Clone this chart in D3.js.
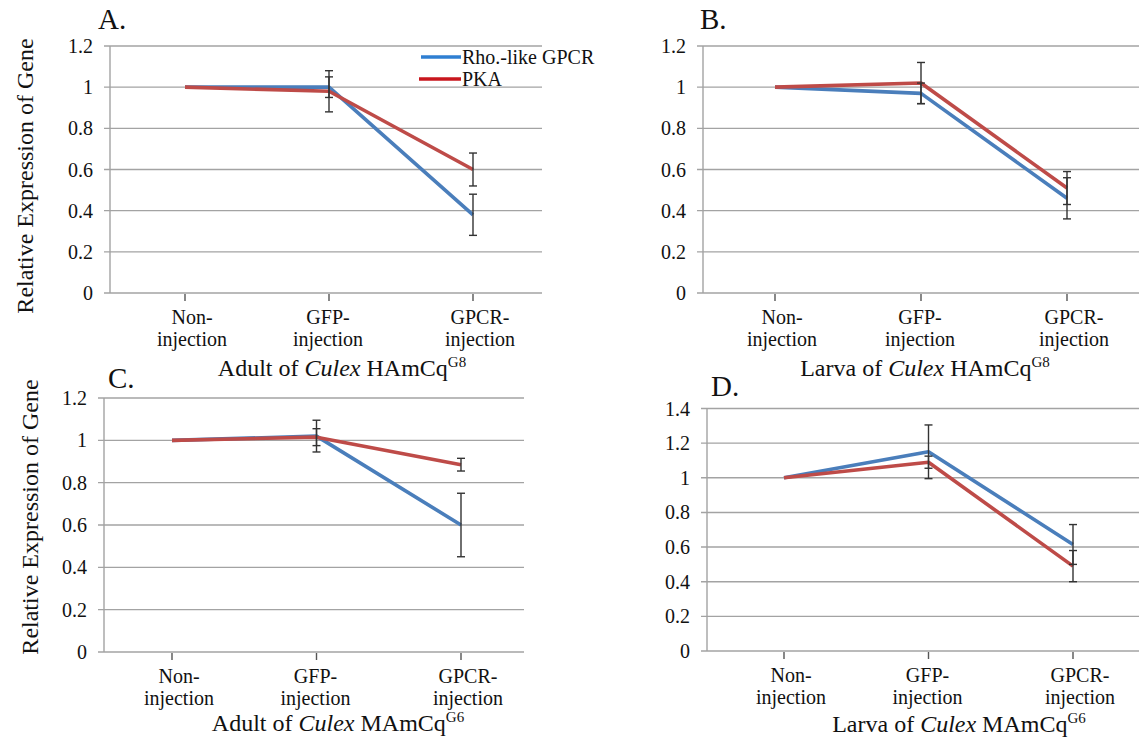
<!DOCTYPE html>
<html>
<head>
<meta charset="utf-8">
<script src="https://cdn.jsdelivr.net/npm/d3@7"></script>
<style>
  html, body { margin: 0; padding: 0; background: #fff; }
  svg text { font-family: "Liberation Serif", "Times New Roman", serif; }
</style>
</head>
<body>
<svg id="chart" width="1139" height="740"></svg>
<script>
// ---- data ----
const categories = ["Non-injection", "GFP-injection", "GPCR-injection"];
const categoryLines = [["Non-", "injection"], ["GFP-", "injection"], ["GPCR-", "injection"]];
const seriesNames = ["Rho.-like GPCR", "PKA"];

// A. Adult of Culex HAmCq G8
const adultHAmGpcr = [1, 1.0, 0.38];
const adultHAmGpcrErr = [0, 0.05, 0.10];
const adultHAmPka = [1, 0.98, 0.60];
const adultHAmPkaErr = [0, 0.10, 0.08];

// B. Larva of Culex HAmCq G8
const larvaHAmGpcr = [1, 0.97, 0.46];
const larvaHAmGpcrErr = [0, 0.05, 0.10];
const larvaHAmPka = [1, 1.02, 0.51];
const larvaHAmPkaErr = [0, 0.10, 0.08];

// C. Adult of Culex MAmCq G6
const adultMAmGpcr = [1, 1.02, 0.60];
const adultMAmGpcrErr = [0, 0.075, 0.15];
const adultMAmPka = [1, 1.015, 0.885];
const adultMAmPkaErr = [0, 0.04, 0.03];

// D. Larva of Culex MAmCq G6
const larvaMAmGpcr = [1, 1.15, 0.615];
const larvaMAmGpcrErr = [0, 0.155, 0.115];
const larvaMAmPka = [1, 1.09, 0.49];
const larvaMAmPkaErr = [0, 0.035, 0.09];

const yTicksA = [0, 0.2, 0.4, 0.6, 0.8, 1, 1.2];
const yTicksD = [0, 0.2, 0.4, 0.6, 0.8, 1, 1.2, 1.4];

// ---- styling ----
const colors = { gpcr: "#4a7ebb", pka: "#be4b48" };
const legendColors = { gpcr: "#2f7fd2", pka: "#c8161d" };
const gridColor = "#a3a3a3";
const errColor = "#333";

const svg = d3.select("#chart");

const panels = [
  { letter: "A.", lx: 98, ly: 29, left: 110, right: 542, top: 46, bottom: 293, cx: [185, 473],
    yMax: 1.2, ticks: yTicksA, gpcr: adultHAmGpcr, gpcrErr: adultHAmGpcrErr, pka: adultHAmPka, pkaErr: adultHAmPkaErr,
    title: ["Adult of ", "Culex", " HAmCq", "G8"], tx: 342, ty: 376,
    yTitle: { x: 25, y: 176 }, legend: true },
  { letter: "B.", lx: 700, ly: 29, left: 703, right: 1139, top: 46, bottom: 293, cx: [775, 1067],
    yMax: 1.2, ticks: yTicksA, gpcr: larvaHAmGpcr, gpcrErr: larvaHAmGpcrErr, pka: larvaHAmPka, pkaErr: larvaHAmPkaErr,
    title: ["Larva of ", "Culex", " HAmCq", "G8"], tx: 925, ty: 376 },
  { letter: "C.", lx: 108, ly: 388, left: 104, right: 524, top: 398, bottom: 652, cx: [172, 461],
    yMax: 1.2, ticks: yTicksA, gpcr: adultMAmGpcr, gpcrErr: adultMAmGpcrErr, pka: adultMAmPka, pkaErr: adultMAmPkaErr,
    title: ["Adult of ", "Culex", " MAmCq", "G6"], tx: 338, ty: 731,
    yTitle: { x: 30, y: 517 } },
  { letter: "D.", lx: 711, ly: 396, left: 707, right: 1139, top: 408.5, bottom: 651, cx: [784, 1073],
    yMax: 1.4, ticks: yTicksD, gpcr: larvaMAmGpcr, gpcrErr: larvaMAmGpcrErr, pka: larvaMAmPka, pkaErr: larvaMAmPkaErr,
    title: ["Larva of ", "Culex", " MAmCq", "G6"], tx: 959, ty: 732 }
];

const labelDx = [7, -1, 7];

panels.forEach(p => {
  const g = svg.append("g");
  const x = d3.scalePoint().domain(categories).range(p.cx);
  const y = d3.scaleLinear().domain([0, p.yMax]).range([p.bottom, p.top]);

  // horizontal gridlines (including the zero baseline)
  g.selectAll("line.grid").data(p.ticks).join("line")
    .attr("x1", p.left - 6).attr("x2", p.right)
    .attr("y1", d => y(d)).attr("y2", d => y(d))
    .attr("stroke", gridColor).attr("stroke-width", 1.4);

  // vertical axis line
  g.append("line")
    .attr("x1", p.left).attr("x2", p.left)
    .attr("y1", y(p.yMax)).attr("y2", y(0))
    .attr("stroke", gridColor).attr("stroke-width", 1.4);

  // y tick labels
  g.selectAll("text.ytick").data(p.ticks).join("text")
    .attr("x", p.left - 17).attr("y", d => y(d)).attr("dy", "0.35em")
    .attr("text-anchor", "end").attr("font-size", 20).attr("fill", "#111")
    .text(d => String(+d.toFixed(1)));

  // category ticks
  g.selectAll("line.xtick").data(categories).join("line")
    .attr("x1", d => x(d)).attr("x2", d => x(d))
    .attr("y1", p.bottom + 1).attr("y2", p.bottom + 8)
    .attr("stroke", "#555").attr("stroke-width", 1.4);

  // category labels (two lines each)
  categories.forEach((c, i) => {
    const t = g.append("text")
      .attr("text-anchor", "middle").attr("font-size", 20).attr("fill", "#111");
    t.append("tspan").attr("x", x(c) + labelDx[i]).attr("y", p.bottom + 31).text(categoryLines[i][0]);
    t.append("tspan").attr("x", x(c) + labelDx[i]).attr("y", p.bottom + 53).text(categoryLines[i][1]);
  });

  // series lines
  const line = d3.line().x((d, i) => x(categories[i])).y(d => y(d));
  g.append("path").datum(p.gpcr).attr("d", line)
    .attr("fill", "none").attr("stroke", colors.gpcr).attr("stroke-width", 3.6)
    .attr("stroke-linejoin", "round");
  g.append("path").datum(p.pka).attr("d", line)
    .attr("fill", "none").attr("stroke", colors.pka).attr("stroke-width", 3.6)
    .attr("stroke-linejoin", "round");

  // error bars
  const drawErr = (vals, errs) => {
    vals.forEach((v, i) => {
      const e = errs[i];
      if (!e) return;
      const cx = x(categories[i]);
      const eg = g.append("g").attr("stroke", errColor).attr("stroke-width", 1.4);
      eg.append("line").attr("x1", cx).attr("x2", cx).attr("y1", y(v + e)).attr("y2", y(v - e));
      eg.append("line").attr("x1", cx - 4).attr("x2", cx + 4).attr("y1", y(v + e)).attr("y2", y(v + e));
      eg.append("line").attr("x1", cx - 4).attr("x2", cx + 4).attr("y1", y(v - e)).attr("y2", y(v - e));
    });
  };
  drawErr(p.gpcr, p.gpcrErr);
  drawErr(p.pka, p.pkaErr);

  // panel letter
  g.append("text").attr("x", p.lx).attr("y", p.ly)
    .attr("font-size", 29).attr("fill", "#111").text(p.letter);

  // x-axis title with italic genus and superscript strain tag
  const tt = g.append("text").attr("x", p.tx).attr("y", p.ty)
    .attr("text-anchor", "middle").attr("font-size", 24).attr("fill", "#111");
  tt.append("tspan").text(p.title[0]);
  tt.append("tspan").attr("font-style", "italic").text(p.title[1]);
  tt.append("tspan").text(p.title[2]);
  tt.append("tspan").attr("font-size", 15).attr("dy", -9).text(p.title[3]);

  // y-axis title
  if (p.yTitle) {
    g.append("text")
      .attr("transform", `translate(${p.yTitle.x},${p.yTitle.y}) rotate(-90)`)
      .attr("text-anchor", "middle").attr("dy", "0.35em")
      .attr("font-size", 24).attr("fill", "#111")
      .text("Relative Expression of Gene");
  }

  // legend
  if (p.legend) {
    const lg = g.append("g");
    const items = [
      { name: seriesNames[0], color: legendColors.gpcr, y: 57, x1: 421 },
      { name: seriesNames[1], color: legendColors.pka, y: 79, x1: 419 }
    ];
    items.forEach(it => {
      lg.append("line").attr("x1", it.x1).attr("x2", 461).attr("y1", it.y).attr("y2", it.y)
        .attr("stroke", it.color).attr("stroke-width", 3.6);
      lg.append("text").attr("x", 462).attr("y", it.y).attr("dy", "0.35em")
        .attr("font-size", 20).attr("fill", "#111").text(it.name);
    });
  }
});
</script>
</body>
</html>
